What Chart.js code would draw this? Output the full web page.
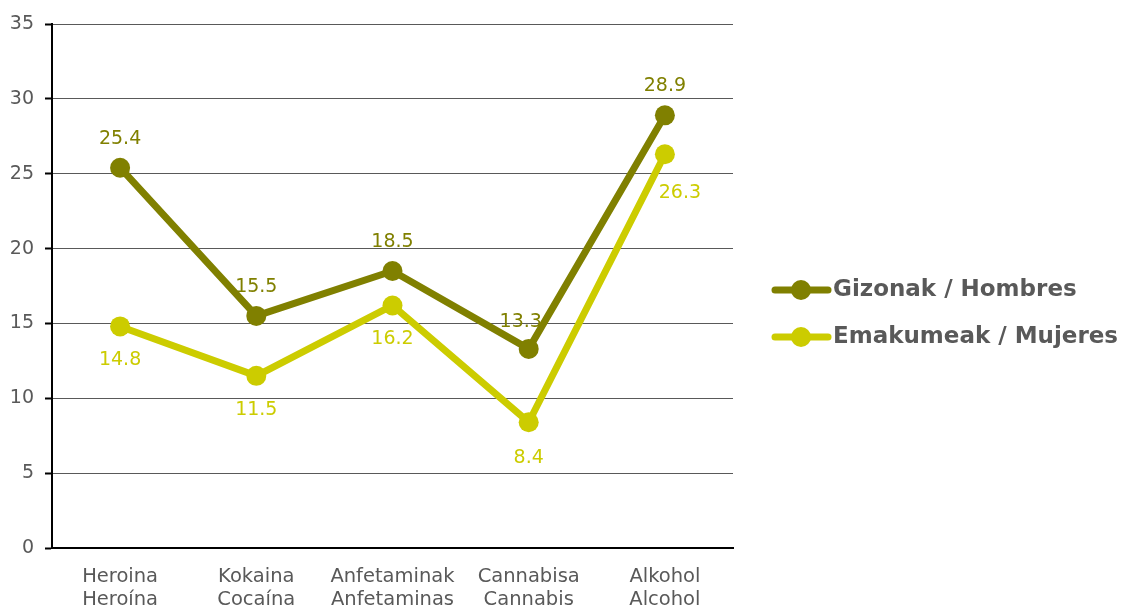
<!DOCTYPE html>
<html>
<head>
<meta charset="utf-8">
<script src="https://cdn.jsdelivr.net/npm/chart.js@4"></script>
<style>
  html,body{margin:0;padding:0;background:#fff;}
  #wrap{width:1126px;height:613px;position:relative;}
</style>
</head>
<body>
<div id="wrap"><canvas id="c" width="1126" height="613"></canvas></div>
<script>
const categories = [["Heroina","Heroína"],["Kokaina","Cocaína"],["Anfetaminak","Anfetaminas"],["Cannabisa","Cannabis"],["Alkohol","Alcohol"]];
const menValues = [25.4, 15.5, 18.5, 13.3, 28.9];
const womenValues = [14.8, 11.5, 16.2, 8.4, 26.3];
const seriesNames = ["Gizonak / Hombres", "Emakumeak / Mujeres"];
const yTicks = [0, 5, 10, 15, 20, 25, 30, 35];

const MEN = "#808000";
const WOMEN = "#CCCC00";
const FONT = "'DejaVu Sans', sans-serif";
const TEXT = "#595959";

const labelPlugin = {
  id: "pointLabels",
  afterDatasetsDraw(chart) {
    const ctx = chart.ctx;
    ctx.save();
    ctx.font = "19px " + FONT;
    ctx.textAlign = "center";
    ctx.textBaseline = "middle";
    chart.data.datasets.forEach((ds, di) => {
      const meta = chart.getDatasetMeta(di);
      meta.data.forEach((pt, i) => {
        const off = ds.labelOffsets[i];
        ctx.fillStyle = ds.borderColor;
        ctx.fillText(ds.data[i].toFixed(1), pt.x + off[0], pt.y + off[1]);
      });
    });
    ctx.restore();
  }
};

const legendPlugin = {
  id: "customLegend",
  afterDraw(chart) {
    const ctx = chart.ctx;
    ctx.save();
    const ys = [290, 337];
    chart.data.datasets.forEach((ds, i) => {
      const y = ys[i];
      ctx.strokeStyle = ds.borderColor;
      ctx.lineWidth = 7;
      ctx.lineCap = "round";
      ctx.beginPath();
      ctx.moveTo(775, y);
      ctx.lineTo(828, y);
      ctx.stroke();
      ctx.fillStyle = ds.borderColor;
      ctx.beginPath();
      ctx.arc(801, y, 10, 0, Math.PI * 2);
      ctx.fill();
      ctx.fillStyle = TEXT;
      ctx.font = "bold 23px " + FONT;
      ctx.textAlign = "left";
      ctx.textBaseline = "middle";
      ctx.fillText(ds.label, 833, y);
    });
    ctx.restore();
  }
};

new Chart(document.getElementById("c"), {
  type: "line",
  data: {
    labels: categories,
    datasets: [
      {
        label: seriesNames[0],
        data: menValues,
        borderColor: MEN,
        backgroundColor: MEN,
        borderWidth: 7,
        pointRadius: 10,
        pointHoverRadius: 10,
        pointBorderWidth: 0,
        tension: 0,
        order: 1,
        labelOffsets: [[0, -29], [0, -29], [0, -29], [-8, -27], [0, -29]]
      },
      {
        label: seriesNames[1],
        data: womenValues,
        borderColor: WOMEN,
        backgroundColor: WOMEN,
        borderWidth: 7,
        pointRadius: 10,
        pointHoverRadius: 10,
        pointBorderWidth: 0,
        tension: 0,
        order: 0,
        labelOffsets: [[0, 34], [0, 34], [0, 34], [0, 36], [15, 39]]
      }
    ]
  },
  options: {
    responsive: false,
    animation: false,
    layout: { padding: { top: 24, right: 393, left: 0, bottom: 0 } },
    plugins: { legend: { display: false }, tooltip: { enabled: false } },
    scales: {
      x: {
        offset: true,
        grid: { display: false },
        border: { display: true, color: "#000", width: 2 },
        ticks: { color: TEXT, font: { family: FONT, size: 19.5, lineHeight: 1.2 }, padding: 9, maxRotation: 0, autoSkip: false },
        afterFit(s) { s.height = 65; }
      },
      y: {
        min: 0, max: 35,
        afterBuildTicks(s) { s.ticks = yTicks.map(v => ({ value: v })); },
        grid: { color: "#595959", lineWidth: 1, tickColor: "#000", tickLength: 7, tickWidth: 2 },
        border: { display: true, color: "#000", width: 2 },
        ticks: { color: TEXT, font: { family: FONT, size: 19 }, padding: 11 },
        afterFit(s) { s.width = 52; }
      }
    }
  },
  plugins: [labelPlugin, legendPlugin]
});
</script>
</body>
</html>
